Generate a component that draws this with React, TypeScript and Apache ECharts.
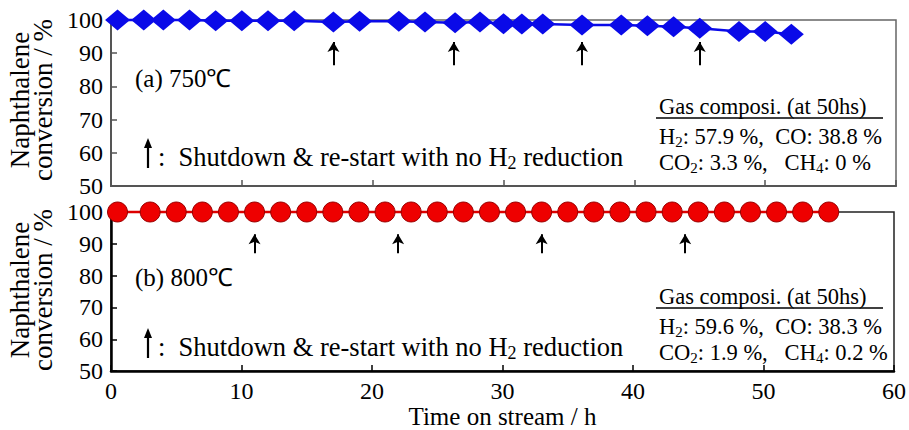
import React, { useEffect, useRef } from "react";
import * as echarts from "echarts";

// Time on stream (h) and naphthalene conversion (%) — (a) 750℃
const timeA = [0.5, 2.5, 4, 6, 8, 10, 12, 14, 17, 19, 22, 24, 26.3, 28.2, 30, 31.4, 33, 36, 39, 41, 43, 45, 48, 50, 52];
const convA = [100, 100, 100, 100, 99.8, 99.8, 99.8, 99.8, 99.4, 99.6, 99.6, 99.4, 99.2, 99.4, 98.9, 98.8, 98.8, 98.5, 98.5, 98.3, 98.0, 97.5, 96.5, 96.5, 95.7];
// (b) 800℃
const timeB = [0.5, 3, 5, 7, 9, 11, 13, 15, 17, 19, 21, 23, 25, 27, 29, 31, 33, 35, 37, 39, 41, 43, 45, 47, 49, 51, 53, 55];
const convB = [100, 100, 100, 100, 100, 100, 100, 100, 100, 100, 100, 100, 100, 100, 100, 100, 100, 100, 100, 100, 100, 100, 100, 100, 100, 100, 100, 100];
// shutdown & restart times (h)
const shutdownA = [17, 26.2, 36, 45];
const shutdownB = [11, 22, 33, 44];
const xTicks = { min: 0, max: 60, interval: 10 };
const yTicks = { min: 50, max: 100, interval: 10 };

const FONT = "Liberation Serif, Times New Roman, serif";

export default function App() {
  const ref = useRef<HTMLDivElement>(null);
  useEffect(() => {
    document.body.style.margin = "0";
    const chart = echarts.init(ref.current!, null, { renderer: "svg" });

    const arrowLines = (xs: number[], y0: number, y1: number) =>
      xs.map((x) => [{ coord: [x, y0] }, { coord: [x, y1] }]);

    const markArrows = (xs: number[], y0: number, y1: number) => ({
      silent: true,
      symbol: ["none", "arrow"],
      symbolSize: [9, 10],
      label: { show: false },
      emphasis: { disabled: true },
      lineStyle: { color: "#000", width: 2, type: "solid" },
      data: arrowLines(xs, y0, y1),
    });

    const legendArrow = (x: number, yTop: number, yBot: number) => [
      { type: "line", shape: { x1: x, y1: yTop + 6, x2: x, y2: yBot }, style: { stroke: "#000", lineWidth: 2.2 } },
      { type: "polygon", shape: { points: [[x - 4, yTop + 10], [x, yTop], [x + 4, yTop + 10]] }, style: { fill: "#000" } },
    ];

    const richNote = {
      n: { fontFamily: FONT, fontSize: 26.5, color: "#000", lineHeight: 30, verticalAlign: "middle" },
      s: { fontFamily: FONT, fontSize: 18, color: "#000", lineHeight: 18, verticalAlign: "bottom" },
    };
    const richGas = {
      n: { fontFamily: FONT, fontSize: 22.5, color: "#000", lineHeight: 26, verticalAlign: "middle" },
      s: { fontFamily: FONT, fontSize: 15, color: "#000", lineHeight: 16, verticalAlign: "bottom" },
    };

    const panelText = (dy: number, label: string, h2: string, co: string, co2: string, ch4: string, labelY: number) => [
      { type: "text", x: 135, y: labelY, style: { text: label, fontFamily: FONT, fontSize: 25, fill: "#000", textVerticalAlign: "middle" } },
      ...legendArrow(148, 138 + dy, 168 + dy),
      {
        type: "text", x: 158, y: 157 + dy,
        style: { text: "{n|:  Shutdown & re-start with no H}{s|2}{n| reduction}", rich: richNote, textVerticalAlign: "middle" },
      },
      { type: "text", x: 659, y: 106 + dy, style: { text: "Gas composi. (at 50hs)", fontFamily: FONT, fontSize: 22.5, fill: "#000", textVerticalAlign: "middle" } },
      { type: "line", shape: { x1: 656, y1: 118 + dy, x2: 883, y2: 118 + dy }, style: { stroke: "#000", lineWidth: 1.5 } },
      {
        type: "text", x: 659, y: 136 + dy,
        style: { text: `{n|H}{s|2}{n|: ${h2} %,  CO: ${co} %}`, rich: richGas, textVerticalAlign: "middle" },
      },
      {
        type: "text", x: 659, y: 162 + dy,
        style: { text: `{n|CO}{s|2}{n|: ${co2} %,   CH}{s|4}{n|: ${ch4} %}`, rich: richGas, textVerticalAlign: "middle" },
      },
      {
        type: "text", x: 31, y: 100 + dy, rotation: Math.PI / 2,
        style: { text: "Naphthalene\nconversion / %", fontFamily: FONT, fontSize: 27, fill: "#000", align: "center", verticalAlign: "middle", lineHeight: 23 },
      },
    ];

    const xAxisBase = (gridIndex: number, color: string, width: number, labels: boolean) => ({
      gridIndex, type: "value", ...xTicks,
      axisLine: { lineStyle: { color, width } },
      axisTick: { inside: true, length: 6, lineStyle: { color, width: 1.5 } },
      axisLabel: { show: labels, fontFamily: FONT, fontSize: 24, color: "#000", margin: 8 },
      splitLine: { show: false },
      name: labels ? "Time on stream / h" : "",
      nameLocation: "middle",
      nameGap: 32,
      nameTextStyle: { fontFamily: FONT, fontSize: 25, color: "#000" },
    });
    const yAxisBase = (gridIndex: number, color: string, width: number) => ({
      gridIndex, type: "value", ...yTicks,
      axisLine: { lineStyle: { color, width } },
      axisTick: { inside: true, length: 6, lineStyle: { color, width: 1.5 } },
      axisLabel: { fontFamily: FONT, fontSize: 24, color: "#000", margin: 8 },
      splitLine: { show: false },
    });

    chart.setOption({
      animation: false,
      textStyle: { fontFamily: FONT },
      grid: [
        { left: 111, top: 20, width: 785, height: 166, show: true, borderColor: "#666", borderWidth: 1.5, backgroundColor: "transparent" },
        { left: 111, top: 212, width: 785, height: 165, show: true, borderColor: "#222", borderWidth: 1.5, backgroundColor: "transparent" },
      ],
      xAxis: [xAxisBase(0, "#555", 2, false), xAxisBase(1, "#000", 2.5, true)],
      yAxis: [yAxisBase(0, "#555", 2), yAxisBase(1, "#000", 2.5)],
      series: [
        {
          type: "line", xAxisIndex: 0, yAxisIndex: 0,
          data: timeA.map((t, i) => [t, convA[i]]),
          symbol: "diamond", symbolSize: [25, 21],
          itemStyle: { color: "#0a0ae8" },
          lineStyle: { color: "#0a0ae8", width: 2.5 },
          clip: false,
          markLine: markArrows(shutdownA, 86.4, 93.4),
        },
        {
          type: "line", xAxisIndex: 1, yAxisIndex: 1,
          data: timeB.map((t, i) => [t, convB[i]]),
          symbol: "circle", symbolSize: 20,
          itemStyle: { color: "#ee0000", borderColor: "#990000", borderWidth: 1 },
          lineStyle: { color: "#dd0000", width: 2.5 },
          clip: false,
          markLine: markArrows(shutdownB, 87, 93),
        },
      ],
      graphic: [
        ...panelText(0, "(a) 750℃", "57.9", "38.8", "3.3", "0", 78),
        ...panelText(190, "(b) 800℃", "59.6", "38.3", "1.9", "0.2", 277),
      ],
    });
    return () => chart.dispose();
  }, []);
  return <div ref={ref} style={{ width: 909, height: 430 }} />;
}
